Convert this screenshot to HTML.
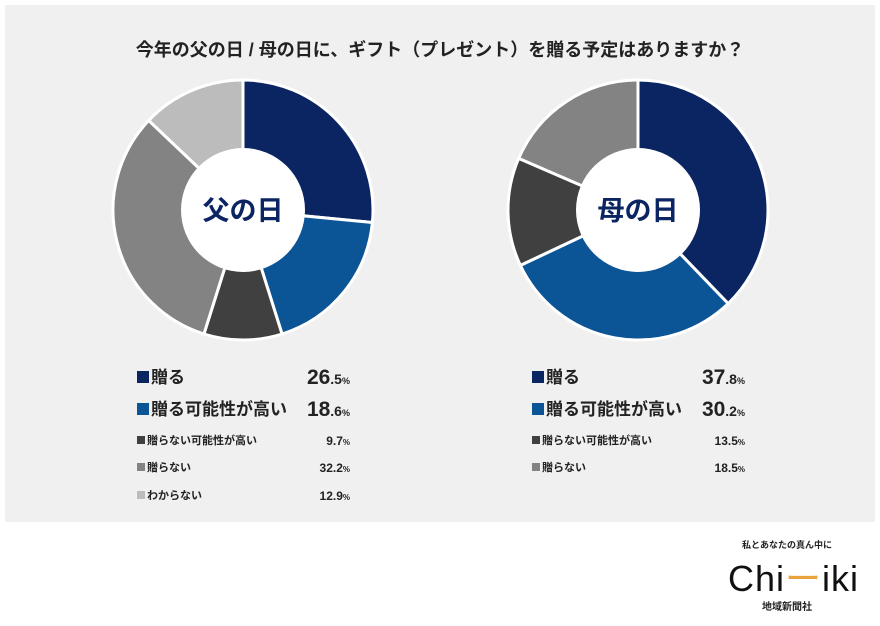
<!DOCTYPE html>
<html><head><meta charset="utf-8"><style>
body{margin:0;width:880px;height:626px;background:#fff;font-family:"Liberation Sans","Noto Sans CJK JP",sans-serif;position:relative;overflow:hidden}
#panel{position:absolute;left:5px;top:5px;width:870px;height:517px;background:#f0f0f0}
.t{position:absolute;color:#222;white-space:nowrap}
</style></head><body>
<div id="panel"></div>
<div class="t" style="left:0;width:880px;text-align:center;top:36px;font-size:18px;font-weight:bold">今年の父の日 / 母の日に、ギフト（プレゼント）を贈る予定はありますか？</div>
<svg id="svg" width="880" height="626" style="position:absolute;left:0;top:0"></svg>
<div id="legends"></div>
<div class="t" style="left:742px;top:538px;font-size:9px;font-weight:bold">私とあなたの真ん中に</div>
<div class="t" style="left:728px;top:550px;font-size:36px;letter-spacing:1px;color:#111">Chi<span style="color:#e8a33a">ー</span>iki</div>
<div class="t" style="left:762px;top:598px;font-size:10px;font-weight:bold">地域新聞社</div>
<script>
const categories=["贈る","贈る可能性が高い","贈らない可能性が高い","贈らない","わからない"];
const fatherValues=[26.5,18.6,9.7,32.2,12.9];
const motherValues=[37.8,30.2,13.5,18.5];
const colors=["#0b2562","#0b5496","#404040","#838383","#bcbcbc"];
const ns="http://www.w3.org/2000/svg";
const svg=document.getElementById('svg');
function donut(cx,cy,vals,label,name){
  const R=130,r=62,tot=vals.reduce((a,b)=>a+b,0);let a0=-Math.PI/2;
  vals.forEach((v,i)=>{
    const a1=a0+v/tot*2*Math.PI,lg=(a1-a0)>Math.PI?1:0;
    const p=document.createElementNS(ns,'path');
    p.setAttribute('d',`M${cx},${cy}L${cx+R*Math.cos(a0)},${cy+R*Math.sin(a0)}A${R},${R} 0 ${lg} 1 ${cx+R*Math.cos(a1)},${cy+R*Math.sin(a1)}Z`);
    p.setAttribute('fill',colors[i]);p.setAttribute('stroke','#fff');p.setAttribute('stroke-width','3');
    
    
    svg.appendChild(p);a0=a1;
  });
  const c=document.createElementNS(ns,'circle');
  c.setAttribute('cx',cx);c.setAttribute('cy',cy);c.setAttribute('r',r);c.setAttribute('fill','#fff');
  
  
  svg.appendChild(c);
  const t=document.createElementNS(ns,'text');
  t.setAttribute('x',cx);t.setAttribute('y',cy+10);t.setAttribute('text-anchor','middle');
  t.setAttribute('font-size','27');t.setAttribute('font-weight','bold');t.setAttribute('fill','#0b2562');
  t.textContent=label;
  
  
  svg.appendChild(t);
}
donut(243,210,fatherValues,"父の日","father-day");
donut(638,210,motherValues,"母の日","mother-day");
const L=document.getElementById('legends');
const ys=[378,410,441,468,496];
function legend(x0,xr,vals,name){
  vals.forEach((v,i)=>{
    const big=i<2,fs=big?17:11,lh=big?26:14;
    const d=document.createElement('div');d.className='t';
    
    
    d.style.cssText=`left:${x0}px;top:${ys[i]-lh/2}px;font-size:${fs}px;line-height:${lh}px;font-weight:bold`;
    const sq=big?12:8;
    d.innerHTML=`<span style="display:inline-block;width:${sq}px;height:${sq}px;background:${colors[i]};margin-right:2px"></span>${categories[i]}`;
    L.appendChild(d);
    const s=v.toFixed(1).split('.');
    const e=document.createElement('div');e.className='t';
    
    
    e.style.cssText=`right:${880-xr}px;top:${ys[i]-lh/2}px;font-size:${big?21:12}px;line-height:${lh}px;font-weight:bold`;
    e.innerHTML=big?`${s[0]}<span style="font-size:14px">.${s[1]}</span><span style="font-size:9px">%</span>`:`${v.toFixed(1)}<span style="font-size:8px">%</span>`;
    L.appendChild(e);
  });
}
legend(137,350,fatherValues,"father-day");
legend(532,745,motherValues,"mother-day");
</script>
</body></html>
